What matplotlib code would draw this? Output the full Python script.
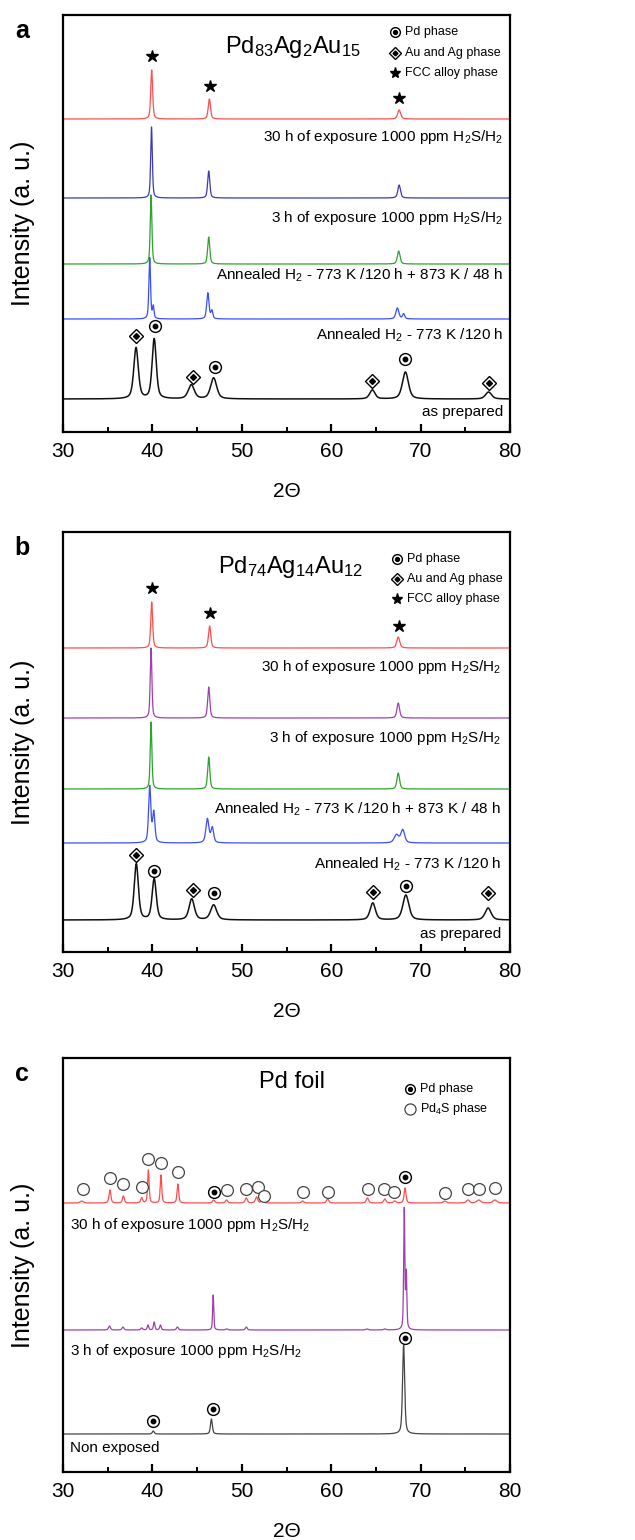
import numpy as np
import matplotlib
matplotlib.use('Agg')
import matplotlib.pyplot as plt
import matplotlib.transforms as mtransforms

plt.rcParams['font.family'] = ['Liberation Sans', 'DejaVu Sans']
plt.rcParams['mathtext.fontset'] = 'custom'
plt.rcParams['mathtext.rm'] = 'Liberation Sans'
plt.rcParams['mathtext.default'] = 'rm'

# ---------------- data (peak centre 2theta, height, fwhm) ----------------
# panel a : Pd83Ag2Au15
a_names = ['30 h of exposure 1000 ppm H$_2$S/H$_2$', '3 h of exposure 1000 ppm H$_2$S/H$_2$',
           'Annealed H$_2$ - 773 K /120 h + 873 K / 48 h', 'Annealed H$_2$ - 773 K /120 h', 'as prepared']
a_colors = ['#ff4d4d', '#3a3ab8', '#2ea32e', '#3a4dff', '#111111']
a_offsets = [313, 234, 168, 113, 33]
a_label_y = [295, 214, 157, 97, 20]
a_peaks = [
    [(39.92, 49, 0.25), (46.37, 20, 0.30), (67.6, 9, 0.40)],
    [(39.9, 71, 0.22), (46.3, 27, 0.28), (67.6, 13, 0.35)],
    [(39.85, 69, 0.22), (46.3, 27, 0.28), (67.55, 13, 0.35)],
    [(39.7, 61, 0.22), (40.1, 12, 0.20), (46.2, 26, 0.30), (46.65, 8, 0.25), (67.4, 11, 0.40), (68.1, 5, 0.30)],
    [(38.17, 51, 0.6), (40.2, 60, 0.55), (44.35, 14, 0.8), (46.85, 21, 0.8), (64.6, 9, 0.7), (68.3, 27, 0.8), (77.6, 7, 0.8)],
]
a_star = [(39.95, 376), (46.4, 346), (67.6, 334)]
a_diam = [(38.15, 96), (44.5, 55), (64.6, 51), (77.6, 49)]
a_circ = [(40.3, 106), (47.0, 65), (68.3, 73)]

# panel b : Pd74Ag14Au12
b_names = a_names
b_colors = ['#ff4d4d', '#a040b0', '#2ea32e', '#3a4dff', '#111111']
b_offsets = [304, 234, 163, 109, 32]
b_label_y = [285, 214, 143, 88, 18]
b_peaks = [
    [(39.92, 46, 0.25), (46.4, 22, 0.30), (67.5, 11, 0.40)],
    [(39.85, 70, 0.22), (46.3, 31, 0.28), (67.5, 15, 0.35)],
    [(39.85, 67, 0.22), (46.3, 32, 0.28), (67.5, 16, 0.35)],
    [(39.7, 56, 0.30), (40.15, 30, 0.30), (46.15, 24, 0.40), (46.7, 15, 0.35), (67.3, 8, 0.60), (68.0, 13, 0.50)],
    [(38.2, 56, 0.55), (40.2, 41, 0.55), (44.4, 21, 0.7), (46.85, 15, 0.8), (64.65, 17, 0.7), (68.35, 25, 0.8), (77.55, 12, 0.8)],
]
b_star = [(39.95, 364), (46.4, 339), (67.6, 326)]
b_diam = [(38.2, 97), (44.5, 62), (64.7, 60), (77.5, 59)]
b_circ = [(40.2, 81), (46.9, 59), (68.4, 66)]

# panel c : Pd foil
c_names = ['30 h of exposure 1000 ppm H$_2$S/H$_2$', '3 h of exposure 1000 ppm H$_2$S/H$_2$', 'Non exposed']
c_colors = ['#ff4d4d', '#a040b0', '#444444']
c_offsets = [269, 142, 38]
c_label_y = [247, 121, 24]
c_peaks = [
    [(32.1, 2, 0.4), (35.25, 13, 0.25), (36.75, 7, 0.25), (38.8, 5, 0.25), (39.55, 33, 0.2), (40.96, 28, 0.2),
     (42.85, 19, 0.22), (46.85, 3, 0.3), (48.3, 3, 0.3), (50.5, 5, 0.3), (51.65, 6, 0.3), (52.3, 3, 0.3),
     (56.8, 2, 0.3), (59.6, 4, 0.3), (64.05, 5, 0.3), (66.0, 4, 0.3), (67.1, 2, 0.3), (68.26, 15, 0.25),
     (72.7, 2, 0.4), (75.3, 3, 0.4), (76.5, 3, 0.5), (78.3, 3, 0.5)],
    [(35.2, 4, 0.25), (36.7, 3, 0.25), (38.8, 2, 0.25), (39.5, 5, 0.2), (40.2, 8, 0.2), (40.9, 5, 0.2),
     (42.8, 3, 0.25), (46.8, 35, 0.15), (48.3, 1, 0.3), (50.5, 3, 0.25), (64.0, 1, 0.3), (66.0, 1, 0.3),
     (68.17, 120, 0.15), (68.4, 55, 0.15)],
    [(40.1, 3, 0.25), (46.6, 15, 0.25), (68.1, 89, 0.28)],
]
c_pd4s = [(32.2, 283), (35.3, 294), (36.75, 288), (38.8, 285), (39.5, 313), (41.0, 309), (42.9, 300),
          (48.3, 282), (50.5, 283), (51.8, 285), (52.5, 276), (56.8, 280), (59.6, 280), (64.1, 283),
          (65.95, 283), (67.06, 280), (72.7, 279), (75.3, 283), (76.5, 283), (78.3, 284)]
c_circ = [(46.9, 280), (68.26, 295), (40.1, 51), (46.8, 63), (68.2, 134)]

two_theta = np.linspace(30, 80, 5001)

LABEL_FS = 11
TITLE_FS = 17
LEG_FS = 9


def pattern(peaks, offset):
    y = np.full_like(two_theta, float(offset))
    for c, h, w in peaks:
        g = np.exp(-4 * np.log(2) * ((two_theta - c) / w) ** 2)
        l = 1 / (1 + 4 * ((two_theta - c) / w) ** 2)
        y += h * (0.5 * g + 0.5 * l)
    return y


def circ_dot(ax, pts, ms=8.5):
    x = [p[0] for p in pts]
    y = [p[1] for p in pts]
    ax.plot(x, y, 'o', ms=ms, mfc='white', mec='black', mew=1.0, ls='none', zorder=5)
    ax.plot(x, y, 'o', ms=3.2, color='black', ls='none', zorder=6)


def diam_dot(ax, pts):
    x = [p[0] for p in pts]
    y = [p[1] for p in pts]
    ax.plot(x, y, 'D', ms=7, mfc='white', mec='black', mew=1.0, ls='none', zorder=5)
    ax.plot(x, y, 'D', ms=3, color='black', ls='none', zorder=6)


def setup(ax, height):
    ax.set_xlim(30, 80)
    ax.set_ylim(0, height)
    ax.set_yticks([])
    ax.set_xticks([30, 40, 50, 60, 70, 80])
    ax.set_xticks([35, 45, 55, 65, 75], minor=True)
    ax.tick_params(axis='x', which='major', direction='in', length=6, width=1.6, labelsize=15, pad=7)
    ax.tick_params(axis='x', which='minor', direction='in', length=3.5, width=1.4)
    for s in ax.spines.values():
        s.set_linewidth(1.6)
    ax.set_xlabel('2\u0398', fontsize=15, labelpad=15)


def legend_block(ax, x0, rows, entries):
    for (kind, text), yy in zip(entries, rows):
        tr = ax.transAxes
        if kind == 'pd':
            ax.plot([x0], [yy], 'o', ms=7, mfc='white', mec='black', mew=1.0, transform=tr)
            ax.plot([x0], [yy], 'o', ms=2.8, color='black', transform=tr)
        elif kind == 'aa':
            ax.plot([x0], [yy], 'D', ms=6, mfc='white', mec='black', mew=1.0, transform=tr)
            ax.plot([x0], [yy], 'D', ms=2.5, color='black', transform=tr)
        elif kind == 'fcc':
            ax.plot([x0], [yy], '*', ms=8, color='black', transform=tr)
        else:
            ax.plot([x0], [yy], 'o', ms=8, mfc='white', mec='#444444', mew=0.9, transform=tr)
        ax.text(x0 + 0.022, yy, text, transform=tr, fontsize=LEG_FS, va='center', ha='left')


fig = plt.figure(figsize=(6.35, 15.4), dpi=100)
W, H = 635.0, 1540.0
panels = [(15, 432), (532, 952), (1058, 1472)]
axes = []
for top, bot in panels:
    axes.append(fig.add_axes([63 / W, 1 - bot / H, 447 / W, (bot - top) / H]))

# ---- panel a ----
ax = axes[0]
setup(ax, 417)
blend = mtransforms.blended_transform_factory(ax.transAxes, ax.transData)
for pk, off, col, name, ly in zip(a_peaks, a_offsets, a_colors, a_names, a_label_y):
    ax.plot(two_theta, pattern(pk, off), color=col, lw=0.9 if col != '#111111' else 1.1)
    ax.text(0.985, ly, name, transform=blend, ha='right', va='center', fontsize=LABEL_FS)
ax.plot([p[0] for p in a_star], [p[1] for p in a_star], '*', ms=9, color='black', ls='none')
diam_dot(ax, a_diam)
circ_dot(ax, a_circ)
ax.text(0.515, 0.923, 'Pd$_{83}$Ag$_2$Au$_{15}$', transform=ax.transAxes, ha='center', va='center',
        fontsize=TITLE_FS)
legend_block(ax, 0.743, [0.959, 0.909, 0.861],
             [('pd', 'Pd phase'), ('aa', 'Au and Ag phase'), ('fcc', 'FCC alloy phase')])

# ---- panel b ----
ax = axes[1]
setup(ax, 420)
blend = mtransforms.blended_transform_factory(ax.transAxes, ax.transData)
for pk, off, col, name, ly in zip(b_peaks, b_offsets, b_colors, b_names, b_label_y):
    ax.plot(two_theta, pattern(pk, off), color=col, lw=0.9 if col != '#111111' else 1.1)
    ax.text(0.98, ly, name, transform=blend, ha='right', va='center', fontsize=LABEL_FS)
ax.plot([p[0] for p in b_star], [p[1] for p in b_star], '*', ms=9, color='black', ls='none')
diam_dot(ax, b_diam)
circ_dot(ax, b_circ)
ax.text(0.508, 0.917, 'Pd$_{74}$Ag$_{14}$Au$_{12}$', transform=ax.transAxes, ha='center', va='center',
        fontsize=TITLE_FS)
legend_block(ax, 0.747, [0.936, 0.888, 0.840],
             [('pd', 'Pd phase'), ('aa', 'Au and Ag phase'), ('fcc', 'FCC alloy phase')])

# ---- panel c ----
ax = axes[2]
setup(ax, 414)
blend = mtransforms.blended_transform_factory(ax.transAxes, ax.transData)
for pk, off, col, name, ly in zip(c_peaks, c_offsets, c_colors, c_names, c_label_y):
    ax.plot(two_theta, pattern(pk, off), color=col, lw=0.9)
    ax.text(0.015, ly, name, transform=blend, ha='left', va='center', fontsize=LABEL_FS)
ax.plot([p[0] for p in c_pd4s], [p[1] for p in c_pd4s], 'o', ms=8.5, mfc='white', mec='#444444', mew=0.9,
        ls='none')
circ_dot(ax, c_circ)
ax.text(0.512, 0.942, 'Pd foil', transform=ax.transAxes, ha='center', va='center', fontsize=TITLE_FS)
legend_block(ax, 0.776, [0.925, 0.877], [('pd', 'Pd phase'), ('pd4s', 'Pd$_4$S phase')])

# panel letters and y labels
for (top, bot), letter in zip(panels, ['a', 'b', 'c']):
    fig.text(22 / W, 1 - (top + 16) / H, letter, fontsize=18, fontweight='bold', ha='center', va='center')
    fig.text(23 / W, 1 - (top + bot) / 2 / H, 'Intensity (a. u.)', fontsize=18, rotation=90,
             ha='center', va='center')

fig.savefig('out.png', dpi=100)
